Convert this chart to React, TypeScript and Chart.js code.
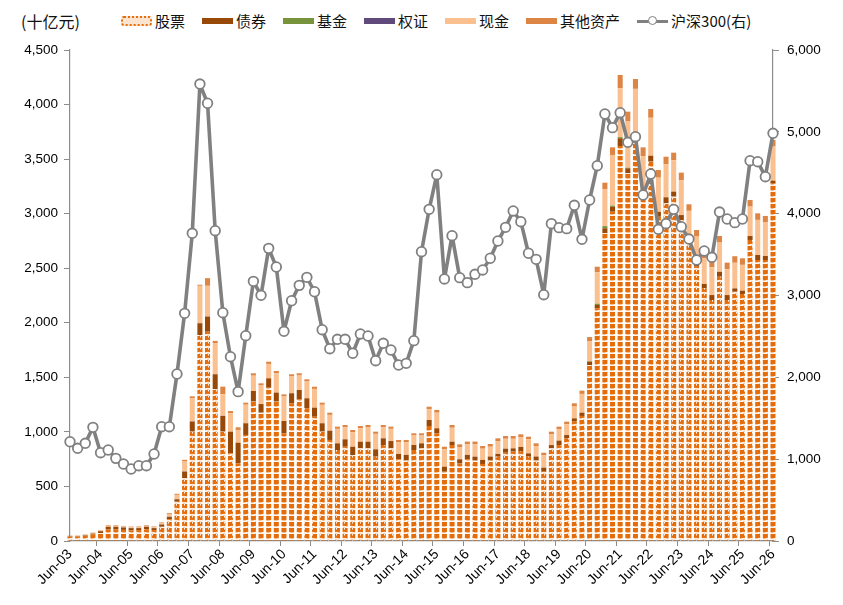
import React, { useEffect, useRef } from "react";
import Chart from "chart.js/auto";
import type { ChartConfiguration, ChartOptions } from "chart.js";

// quarterly categories, Jun-03 .. Jun-26
const QUARTERS = [
  "Jun-03", "Sep-03", "Dec-03",
  "Mar-04", "Jun-04", "Sep-04", "Dec-04",
  "Mar-05", "Jun-05", "Sep-05", "Dec-05",
  "Mar-06", "Jun-06", "Sep-06", "Dec-06",
  "Mar-07", "Jun-07", "Sep-07", "Dec-07",
  "Mar-08", "Jun-08", "Sep-08", "Dec-08",
  "Mar-09", "Jun-09", "Sep-09", "Dec-09",
  "Mar-10", "Jun-10", "Sep-10", "Dec-10",
  "Mar-11", "Jun-11", "Sep-11", "Dec-11",
  "Mar-12", "Jun-12", "Sep-12", "Dec-12",
  "Mar-13", "Jun-13", "Sep-13", "Dec-13",
  "Mar-14", "Jun-14", "Sep-14", "Dec-14",
  "Mar-15", "Jun-15", "Sep-15", "Dec-15",
  "Mar-16", "Jun-16", "Sep-16", "Dec-16",
  "Mar-17", "Jun-17", "Sep-17", "Dec-17",
  "Mar-18", "Jun-18", "Sep-18", "Dec-18",
  "Mar-19", "Jun-19", "Sep-19", "Dec-19",
  "Mar-20", "Jun-20", "Sep-20", "Dec-20",
  "Mar-21", "Jun-21", "Sep-21", "Dec-21",
  "Mar-22", "Jun-22", "Sep-22", "Dec-22",
  "Mar-23", "Jun-23", "Sep-23", "Dec-23",
  "Mar-24", "Jun-24", "Sep-24", "Dec-24",
  "Mar-25", "Jun-25", "Sep-25", "Dec-25",
  "Mar-26", "Jun-26",
];

// 十亿元
const STOCKS = [
  38, 40, 48, 60, 72, 105, 108, 102, 98, 100, 108, 100, 130, 200, 360, 575, 1002, 1888, 1918, 1390,
  1002, 804, 712, 972, 1277, 1176, 1405, 1277, 987, 1262, 1299, 1216, 1139, 1002, 926, 834, 864, 788, 849, 849,
  773, 880, 849, 749, 737, 834, 849, 1054, 987, 635, 880, 712, 749, 737, 706, 737, 773, 809, 819, 825,
  773, 737, 635, 849, 880, 941, 1094, 1146, 1613, 2133, 2820, 3018, 3620, 3370, 3650, 3125, 3476, 2972, 3095, 3156,
  2942, 2728, 2514, 2316, 2209, 2422, 2209, 2285, 2264, 2759, 2575, 2575, 3278,
];

const BONDS = [
  4, 4, 5, 8, 18, 25, 22, 22, 20, 18, 22, 18, 20, 20, 22, 61, 92, 107, 138, 138,
  144, 198, 189, 107, 98, 79, 86, 83, 113, 92, 85, 92, 83, 77, 85, 61, 68, 76, 61, 61,
  67, 61, 67, 49, 52, 46, 46, 55, 46, 46, 30, 37, 40, 36, 37, 37, 25, 37, 30, 37,
  30, 37, 37, 30, 40, 30, 30, 30, 30, 30, 46, 46, 71, 46, 50, 40, 55, 45, 55, 46,
  45, 30, 30, 40, 45, 45, 45, 30, 30, 36, 46, 37, 24,
];

const FUNDS = [
  0, 0, 0, 0, 0, 0, 0, 0, 0, 0, 0, 0, 0, 0, 0, 0, 0, 0, 0, 0,
  0, 0, 0, 0, 0, 0, 0, 0, 0, 0, 0, 0, 0, 0, 0, 0, 0, 0, 0, 0,
  0, 0, 0, 0, 0, 0, 0, 0, 0, 0, 0, 0, 0, 0, 0, 0, 0, 0, 0, 0,
  0, 0, 0, 0, 0, 0, 0, 0, 5, 12, 20, 10, 10, 5, 5, 0, 0, 0, 0, 0,
  0, 0, 0, 0, 0, 0, 0, 0, 0, 0, 0, 0, 0,
];

const WARRANTS = [
  0, 0, 0, 0, 0, 0, 0, 0, 0, 1, 1, 1, 2, 2, 2, 2, 3, 3, 2, 1,
  1, 0, 0, 0, 0, 0, 0, 0, 0, 0, 0, 0, 0, 0, 0, 0, 0, 0, 0, 0,
  0, 0, 0, 0, 0, 0, 0, 0, 0, 0, 0, 0, 0, 0, 0, 0, 0, 0, 0, 0,
  0, 0, 0, 0, 0, 0, 0, 0, 0, 0, 0, 0, 0, 0, 0, 0, 0, 0, 0, 0,
  0, 0, 0, 0, 0, 0, 0, 0, 0, 0, 0, 0, 0,
];

const CASH = [
  4, 3, 4, 5, 6, 8, 8, 8, 8, 8, 8, 8, 12, 26, 39, 95, 210, 341, 281, 285,
  198, 170, 117, 170, 140, 170, 132, 178, 224, 154, 133, 154, 172, 169, 145, 133, 111, 133, 124, 133,
  142, 102, 112, 108, 117, 87, 72, 97, 143, 158, 128, 112, 97, 113, 103, 90, 118, 91, 88, 91,
  128, 96, 112, 98, 103, 98, 108, 172, 181, 289, 338, 464, 448, 424, 439, 363, 348, 313, 302, 287,
  319, 268, 246, 234, 256, 268, 237, 235, 237, 270, 322, 307, 313,
];

const OTHERS = [
  3, 3, 3, 3, 4, 6, 6, 6, 6, 6, 6, 6, 6, 8, 10, 11, 19, 10, 70, 20,
  70, 19, 24, 19, 22, 20, 20, 20, 20, 20, 20, 20, 20, 20, 20, 20, 20, 20, 20, 20,
  20, 20, 20, 20, 20, 20, 20, 25, 25, 25, 25, 25, 25, 25, 25, 25, 25, 25, 25, 25,
  25, 25, 25, 25, 25, 25, 30, 30, 40, 50, 60, 70, 122, 90, 90, 80, 80, 70, 70, 70,
  70, 60, 60, 60, 60, 60, 60, 60, 60, 60, 60, 60, 60,
];

// 沪深300 (right axis)
const HS300 = [
  1213, 1133, 1194, 1389, 1079, 1112, 1010, 941, 880, 920, 920, 1063, 1397, 1397, 2041, 2782, 3760, 5584, 5349, 3792,
  2790, 2252, 1825, 2509, 3173, 3002, 3576, 3348, 2562, 2936, 3124, 3222, 3046, 2582, 2350, 2465, 2465, 2294, 2530, 2505,
  2203, 2416, 2334, 2151, 2171, 2448, 3535, 4053, 4476, 3202, 3731, 3218, 3157, 3259, 3312, 3455, 3666, 3833, 4033, 3902,
  3516, 3442, 3010, 3878, 3829, 3817, 4102, 3687, 4167, 4586, 5218, 5051, 5234, 4872, 4941, 4228, 4485, 3809, 3878, 4053,
  3841, 3690, 3434, 3544, 3467, 4020, 3935, 3890, 3935, 4647, 4635, 4452, 4982,
];

const LEFT_TICKS = [0, 500, 1000, 1500, 2000, 2500, 3000, 3500, 4000, 4500];
const RIGHT_TICKS = [0, 1000, 2000, 3000, 4000, 5000, 6000];

const COLORS = {
  stock: "#E46C0A",
  bond: "#984807",
  fund: "#77933C",
  warrant: "#604A7B",
  cash: "#FAC090",
  other: "#DD8544",
  line: "#808080",
  axis: "#8C8C8C",
};

const CJK = '"Noto Sans CJK SC", "Noto Sans", sans-serif';
const NUM_FONT = '"Liberation Sans", Arial, sans-serif';

// dotted fill used by the 股票 series
const makeStockPattern = () => {
  const tile = document.createElement("canvas");
  tile.width = 8;
  tile.height = 6;
  const ctx = tile.getContext("2d")!;
  ctx.fillStyle = COLORS.stock;
  ctx.fillRect(0, 0, 8, 6);
  ctx.strokeStyle = "#FFF6EE";
  ctx.lineWidth = 1.8;
  ctx.beginPath();
  ctx.moveTo(0, 4.6);
  ctx.quadraticCurveTo(4, 6.4, 8, 4.6);
  ctx.stroke();
  ctx.lineWidth = 1;
  ctx.beginPath();
  ctx.moveTo(0.5, 0);
  ctx.lineTo(0.5, 1.5);
  ctx.stroke();
  const pattern = ctx.createPattern(tile, "repeat");
  return pattern || COLORS.stock;
};

const fmt = (v: number) => v.toLocaleString("en-US");

const LegendItem: React.FC<{ label: string; swatch: React.ReactNode }> = ({ label, swatch }) => (
  <div style={{ display: "flex", alignItems: "center" }}>
    {swatch}
    <span style={{ marginLeft: 3 }}>{label}</span>
  </div>
);

const bar = (color: string) => (
  <div style={{ width: 31, height: 6, background: color }} />
);

export default function App() {
  const canvasRef = useRef<HTMLCanvasElement | null>(null);

  useEffect(() => {
    document.body.style.margin = "0";
    const canvas = canvasRef.current;
    if (!canvas) return;

    const barBase = {
      type: "bar" as const,
      yAxisID: "y",
      stack: "holdings",
      order: 1,
      barPercentage: 0.66,
      categoryPercentage: 1,
      borderWidth: 0,
      clip: false as const,
    };

    const config: ChartConfiguration = {
      type: "bar",
      data: {
        labels: QUARTERS,
        datasets: [
          {
            type: "line",
            label: "沪深300(右)",
            data: HS300,
            yAxisID: "y1",
            order: 0,
            borderColor: COLORS.line,
            borderWidth: 3.6,
            borderJoinStyle: "round",
            borderCapStyle: "round",
            pointRadius: 4.8,
            pointBackgroundColor: "#FFFFFF",
            pointBorderColor: COLORS.line,
            pointBorderWidth: 1.8,
            tension: 0,
            fill: false,
            clip: false,
          } as any,
          { ...barBase, label: "股票", data: STOCKS, backgroundColor: makeStockPattern() as any },
          { ...barBase, label: "债券", data: BONDS, backgroundColor: COLORS.bond },
          { ...barBase, label: "基金", data: FUNDS, backgroundColor: COLORS.fund },
          { ...barBase, label: "权证", data: WARRANTS, backgroundColor: COLORS.warrant },
          { ...barBase, label: "现金", data: CASH, backgroundColor: COLORS.cash },
          { ...barBase, label: "其他资产", data: OTHERS, backgroundColor: COLORS.other },
        ],
      },
      options: {
        responsive: true,
        maintainAspectRatio: false,
        animation: false,
        layout: { padding: { top: 50, left: 0, right: 0, bottom: 0 } },
        plugins: {
          legend: { display: false },
          tooltip: { enabled: false },
        },
        scales: {
          x: {
            type: "category",
            stacked: true,
            offset: false,
            grid: {
              display: true,
              drawOnChartArea: false,
              tickLength: 5,
              tickColor: (ctx: any) =>
                QUARTERS[ctx.index]?.startsWith("Jun") ? COLORS.axis : "rgba(0,0,0,0)",
            },
            border: { color: COLORS.axis, width: 1.2 },
            ticks: {
              autoSkip: false,
              maxRotation: 45,
              minRotation: 45,
              padding: 0,
              color: "#000",
              font: { family: NUM_FONT, size: 14 },
              callback: (_v: any, i: number) => (QUARTERS[i].startsWith("Jun") ? QUARTERS[i] : ""),
            },
            afterFit: (scale: any) => {
              scale.height = 64;
            },
          },
          y: {
            type: "linear",
            position: "left",
            stacked: true,
            min: 0,
            max: 4500,
            afterBuildTicks: (scale: any) => {
              scale.ticks = LEFT_TICKS.map((value) => ({ value }));
            },
            grid: { drawOnChartArea: false, tickLength: 6, tickColor: COLORS.axis },
            border: { color: COLORS.axis, width: 1.2 },
            ticks: {
              padding: 6,
              color: "#000",
              font: { family: NUM_FONT, size: 13.5 },
              callback: (v: any) => fmt(Number(v)),
            },
            afterFit: (scale: any) => {
              scale.width = 70;
            },
          },
          y1: {
            type: "linear",
            position: "right",
            min: 0,
            max: 6000,
            afterBuildTicks: (scale: any) => {
              scale.ticks = RIGHT_TICKS.map((value) => ({ value }));
            },
            grid: { drawOnChartArea: false, tickLength: 6, tickColor: COLORS.axis },
            border: { color: COLORS.axis, width: 1.2 },
            ticks: {
              padding: 8,
              color: "#000",
              font: { family: NUM_FONT, size: 13.5 },
              callback: (v: any) => fmt(Number(v)),
            },
            afterFit: (scale: any) => {
              scale.width = 70;
            },
          },
        },
      } as ChartOptions,
    };

    const chart = new Chart(canvas, config);
    return () => {
      chart.destroy();
    };
  }, []);

  return (
    <div style={{ position: "relative", width: 843, height: 605, fontFamily: CJK, color: "#111" }}>
      <div style={{ position: "absolute", left: 21, top: 9, fontSize: 16, lineHeight: "24px" }}>(十亿元)</div>
      <div
        style={{
          position: "absolute",
          left: 121,
          top: 11,
          display: "flex",
          gap: 17,
          fontSize: 15,
          lineHeight: "20px",
        }}
      >
        <LegendItem
          label="股票"
          swatch={
            <div
              style={{
                width: 27,
                height: 6,
                border: `2px dotted ${COLORS.stock}`,
                borderRadius: 3,
                background: "#FCE4D0",
              }}
            />
          }
        />
        <LegendItem label="债券" swatch={bar(COLORS.bond)} />
        <LegendItem label="基金" swatch={bar(COLORS.fund)} />
        <LegendItem label="权证" swatch={bar(COLORS.warrant)} />
        <LegendItem label="现金" swatch={bar(COLORS.cash)} />
        <LegendItem label="其他资产" swatch={bar(COLORS.other)} />
        <LegendItem
          label="沪深300(右)"
          swatch={
            <div style={{ position: "relative", width: 31, height: 10 }}>
              <div style={{ position: "absolute", left: 0, top: 4, width: 31, height: 3, background: COLORS.line }} />
              <div
                style={{
                  position: "absolute",
                  left: 11,
                  top: 0,
                  width: 7,
                  height: 7,
                  borderRadius: "50%",
                  border: `1.5px solid ${COLORS.line}`,
                  background: "#fff",
                }}
              />
            </div>
          }
        />
      </div>
      <div style={{ position: "absolute", left: 0, top: 0, width: 843, height: 605 }}>
        <canvas ref={canvasRef} />
      </div>
    </div>
  );
}
